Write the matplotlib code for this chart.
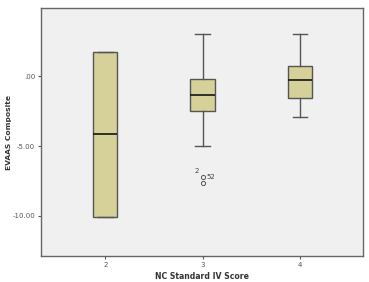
import matplotlib
matplotlib.use("Agg")
import matplotlib.pyplot as plt

categories = ["2", "3", "4"]
positions = [2, 3, 4]
whislo = [-10.1, -4.97, -2.92]
q1 = [-10.1, -2.51, -1.58]
med = [-4.15, -1.36, -0.27]
q3 = [1.72, -0.21, 0.72]
whishi = [1.72, 3.03, 3.03]
fliers = [[], [-7.21, -7.62], []]
flier_labels = [[], ["52", "2"], []]

fig = plt.figure(figsize=(3.69, 2.82), dpi=100)
ax = fig.add_axes([0.110, 0.092, 0.873, 0.879])
ax.set_facecolor("#f0f0f0")

stats = []
for i in range(3):
    stats.append(dict(whislo=whislo[i], q1=q1[i], med=med[i], q3=q3[i],
                      whishi=whishi[i], fliers=fliers[i]))
ax.bxp(stats, positions=positions, widths=0.25, patch_artist=True,
       showfliers=True,
       boxprops=dict(facecolor="#d6d198", edgecolor="#555555", linewidth=1.0),
       medianprops=dict(color="#222222", linewidth=1.3),
       whiskerprops=dict(color="#555555", linewidth=1.0),
       capprops=dict(color="#555555", linewidth=1.0),
       capwidths=0.15,
       flierprops=dict(marker="o", markersize=3, markerfacecolor="none",
                       markeredgecolor="#555555", markeredgewidth=0.7))

# outlier labels
for p, fl, lb in zip(positions, fliers, flier_labels):
    if fl:
        ax.text(p + 0.04, fl[0], lb[0], fontsize=5, color="#444444", va="center", ha="left")
        ax.text(p - 0.04, fl[0] + 0.42, lb[1], fontsize=5, color="#444444", va="center", ha="right")

ax.set_xlim(1.336, 4.644)
ax.set_ylim(-12.87, 4.87)
ax.set_yticks([0, -5, -10])
ax.set_yticklabels([".00", "-5.00", "-10.00"])
ax.set_xticks(positions)
ax.set_xticklabels(categories)
ax.tick_params(axis="both", labelsize=5, colors="#555555", length=2.5, width=0.8, pad=1.5)
for s in ["left", "bottom", "top", "right"]:
    ax.spines[s].set_color("#666666")
    ax.spines[s].set_linewidth(1.0)

ax.set_xlabel("NC Standard IV Score", fontsize=5.6, fontweight="bold", color="#333333", labelpad=3)
ax.set_ylabel("EVAAS Composite", fontsize=5.4, fontweight="bold", color="#333333")
ax.yaxis.set_label_coords(-0.088, 0.5)

fig.savefig("out.png", dpi=100, facecolor="white")
